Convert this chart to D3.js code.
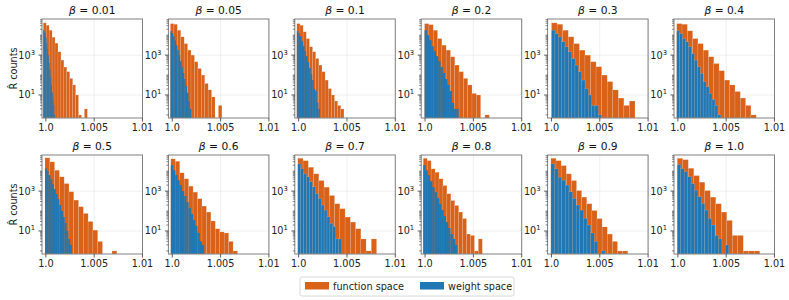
<!DOCTYPE html>
<html>
<head>
<meta charset="utf-8">
<script src="https://cdn.jsdelivr.net/npm/d3@7"></script>
<style>
body{margin:0;background:#fff}
svg{display:block;font-family:"DejaVu Sans",sans-serif}
</style>
</head>
<body>
<div class="canvas"></div>
<script>
// panel titles
const betas=['0.01','0.05','0.1','0.2','0.3','0.4','0.5','0.6','0.7','0.8','0.9','1.0'];
const xTicks=[1.0,1.005,1.01];
const xTickLabels=['1.0','1.005','1.01'];
const yTicks=[10,1000];
const yTickExp=['1','3'];

// histogram range of each panel (15 bins between min and max)
const binMin=[0.99973,0.99981,0.99981,0.99995,1.00001,0.99988,0.99991,0.99985,0.99991,0.99981,0.99994,0.99994];
const fsMax=[1.00429,1.00513,1.00468,1.00664,1.00864,1.00810,1.00734,1.00675,1.00806,1.00592,1.00789,1.00847];
const wsMax=[1.00095,1.00195,1.00219,1.00347,1.00519,1.00444,1.00268,1.00330,1.00444,1.00333,1.00554,1.00526];

// R-hat counts, function space
const fsCounts=[
 [41700,31600,17800,7940,3980,1480,562,251,148,68,32,10,1,0,2],
 [38000,35500,17800,8320,3800,1780,1000,468,214,100,38,18,8,0,3],
 [38000,31600,14800,6760,2630,1480,676,316,148,56,21,10,5,3,2],
 [38000,33900,17800,6760,3160,1780,832,316,148,68,32,12,10,0,1],
 [41700,35500,17800,8320,3800,1780,1000,468,263,100,47,18,7,3,5],
 [38000,35500,16600,6760,3800,1780,832,380,166,56,32,15,7,3,1],
 [46800,29500,11200,5250,2400,933,355,166,76,30,11,3,0,0,1],
 [41700,31600,8320,4170,1780,891,417,178,89,32,13,9,8,3,1],
 [44700,33900,15800,7410,3390,1580,603,234,132,50,28,13,4,1,4],
 [44700,33900,13200,8910,4170,1910,741,339,191,89,42,7,6,1,4],
 [44700,33900,19100,7410,3390,1070,501,234,107,42,16,7,3,1,1],
 [44700,38000,14100,6030,2820,1070,501,234,89,34,6,6,1,1,1]
];
// R-hat counts, weight space
const wsCounts=[
 [17800,15800,12600,7900,3980,2000,1000,398,200,79,32,13,6,3,1],
 [15800,12600,8910,5620,3160,1780,1000,501,251,126,63,28,13,5,2],
 [15800,12600,8910,5010,2820,1580,891,447,224,112,56,20,16,4,2],
 [17800,10000,5620,2820,1580,891,501,251,126,63,32,16,4,2,2],
 [17800,12000,8320,4680,2630,1480,676,316,148,56,21,10,3,3,1],
 [16600,12000,6760,4680,2630,1200,562,263,120,47,26,12,6,3,1],
 [13500,10000,6310,3980,2240,1260,708,398,200,100,50,25,10,4,2],
 [20000,11200,6310,3550,2000,1000,562,282,141,71,35,18,8,3,2],
 [23400,13200,7590,5250,2950,1660,759,427,200,112,52,24,17,4,4],
 [20000,11200,6310,3160,1580,891,447,224,112,56,28,14,7,4,2],
 [23400,13200,5010,3550,2000,933,427,200,112,43,20,8,3,0,1],
 [21400,13500,9330,5250,2400,1120,525,240,112,43,20,6,4,0,2]
];
const seriesNames=['function space','weight space'];
const seriesColours=['#d9621a','#1f77b4'];

const dims={width:789,height:300,pw:100.5,ph:99,left0:42,step:126.4,tops:[19,155]};

const svg=d3.select('.canvas')
  .append('svg')
  .attr('width',dims.width)
  .attr('height',dims.height);

const x=d3.scaleLinear().domain([0.9996,1.01]).range([0,dims.pw]);
const y=d3.scaleLog().domain([0.7,65000]).range([dims.ph,0]);

// minor log ticks
const minor=[];
for(let e=0;e<5;e++){
  for(let k=1;k<10;k++){
    const v=k*Math.pow(10,e);
    if(v>=0.7 && v<=65000 && v!==10 && v!==1000) minor.push(v);
  }
}

const bins=(lo,hi,counts)=>{
  const w=(hi-lo)/counts.length;
  return counts.map((c,i)=>({x0:lo+i*w,x1:lo+(i+1)*w,c:c}));
};

betas.forEach((b,i)=>{
  const col=i%6,row=Math.floor(i/6);
  const g=svg.append('g')
    .attr('transform',`translate(${dims.left0+col*dims.step},${dims.tops[row]})`);

  // grid
  g.selectAll('line.gx').data(xTicks).enter().append('line')
    .attr('x1',d=>x(d)).attr('x2',d=>x(d)).attr('y1',0).attr('y2',dims.ph)
    .attr('stroke','#ebebeb').attr('stroke-width',0.8);
  g.selectAll('line.gy').data(yTicks).enter().append('line')
    .attr('x1',0).attr('x2',dims.pw).attr('y1',d=>y(d)).attr('y2',d=>y(d))
    .attr('stroke','#ebebeb').attr('stroke-width',0.8);

  // bars: function space first, weight space on top
  [bins(binMin[i],fsMax[i],fsCounts[i]),bins(binMin[i],wsMax[i],wsCounts[i])].forEach((data,s)=>{
    g.append('g').selectAll('rect')
      .data(data.filter(d=>d.c>0))
      .enter().append('rect')
      .attr('x',d=>x(d.x0))
      .attr('width',d=>x(d.x1)-x(d.x0)+0.05)
      .attr('y',d=>y(d.c))
      .attr('height',d=>dims.ph-y(d.c))
      .attr('fill',seriesColours[s])
      .attr('stroke',d=>(x(d.x1)-x(d.x0))>2.5?'#fff':'none')//thin bins stay solid
      .attr('stroke-opacity',0.3)
      .attr('stroke-width',0.45);
  });

  // frame
  g.append('rect').attr('width',dims.pw).attr('height',dims.ph)
    .attr('fill','none').attr('stroke','#808080').attr('stroke-width',1);

  // x ticks
  g.selectAll('line.tx').data(xTicks).enter().append('line')
    .attr('x1',d=>x(d)).attr('x2',d=>x(d)).attr('y1',dims.ph).attr('y2',dims.ph+3.5)
    .attr('stroke','#333').attr('stroke-width',0.8);
  g.selectAll('text.tx').data(xTickLabels).enter().append('text')
    .attr('x',(d,j)=>x(xTicks[j])).attr('y',dims.ph+13)
    .attr('text-anchor','middle').attr('font-size',9.7).attr('fill','#222')
    .text(d=>d);

  // y ticks
  g.selectAll('line.ty').data(yTicks).enter().append('line')
    .attr('x1',-3.5).attr('x2',0).attr('y1',d=>y(d)).attr('y2',d=>y(d))
    .attr('stroke','#333').attr('stroke-width',0.8);
  g.selectAll('line.tm').data(minor).enter().append('line')
    .attr('x1',-2).attr('x2',0).attr('y1',d=>y(d)).attr('y2',d=>y(d))
    .attr('stroke','#333').attr('stroke-width',0.6);
  yTicks.forEach((t,j)=>{
    const tx=g.append('text').attr('x',-7).attr('y',y(t)+3.5)
      .attr('text-anchor','end').attr('font-size',9.7).attr('fill','#222');
    tx.append('tspan').text('10');
    tx.append('tspan').attr('dy',-4).attr('font-size',6.8).text(yTickExp[j]);
  });

  // title
  const title=g.append('text').attr('x',dims.pw/2).attr('y',-5)
    .attr('text-anchor','middle').attr('font-size',10.7).attr('fill','#111');
  title.append('tspan').attr('font-style','italic').text('β');
  title.append('tspan').text(' = '+b);

  if(col===0){
    g.append('text')
      .attr('transform',`translate(${16.5-dims.left0},${dims.ph/2}) rotate(-90)`)
      .attr('text-anchor','middle').attr('font-size',9.7).attr('fill','#222')
      .text('R\u0302 counts');
  }
});

// legend
const legend=svg.append('g').attr('transform','translate(300,277)');
legend.append('rect').attr('width',214).attr('height',19).attr('rx',2)
  .attr('fill','#fff').attr('stroke','#d0d0d0').attr('stroke-width',0.8);
const lx=[5,120];
seriesNames.forEach((n,s)=>{
  legend.append('rect').attr('x',lx[s]).attr('y',5).attr('width',24).attr('height',7.5)
    .attr('fill',seriesColours[s]);
  legend.append('text').attr('x',lx[s]+28).attr('y',12.5)
    .attr('font-size',9.7).attr('fill','#222').text(n);
});
</script>
</body>
</html>
